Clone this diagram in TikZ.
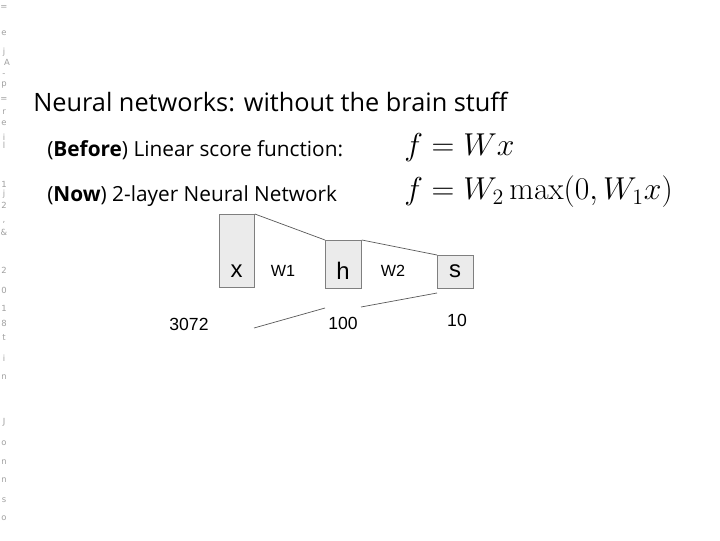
\documentclass[tikz,border=0pt]{standalone}
\usepackage[no-math]{fontspec}
\setmainfont{Open Sans}
\newfontfamily\arialfont{Liberation Sans}
\newfontfamily\tinyfont{DejaVu Sans}
\usepackage{amsmath,amssymb}
\usepackage{graphicx}
\usetikzlibrary{positioning,calc}

\definecolor{boxfill}{HTML}{EBEBEB}
\definecolor{boxline}{HTML}{7F7F7F}
\definecolor{margintext}{HTML}{A0A0A0}

\begin{document}
\begin{tikzpicture}[x=0.025cm, y=-0.025cm,
  layer/.style={rectangle, draw=boxline, fill=boxfill, line width=0.6pt, inner sep=0pt, anchor=north west},
  lbl/.style={font=\arialfont\fontsize{17}{17}\selectfont, inner sep=0pt},
  wlbl/.style={font=\arialfont\fontsize{11.5}{11.5}\selectfont, inner sep=0pt},
  conn/.style={draw=black!65, line width=0.5pt}]
\useasboundingbox[fill=white] (0,0) rectangle (720,540);
% garbled footer running down the left margin
\foreach \yy/\ch in {8/=, 33/e, 52/j, 75/-, 85/p, 100/=, 112/r, 123/e, 137/i, 145/l, 184/1, 194/j, 205/2, 222/{,}, 232/\&, 270/2, 290/0, 308/1, 323/8, 338/t, 358/i, 377/n, 422/J, 443/o, 462/n, 480/n, 500/s, 518/o}
  \node[font=\tinyfont\fontsize{6}{6}\selectfont, text=margintext, inner sep=0pt] at (4,\yy) {\ch};
\node[font=\tinyfont\fontsize{6}{6}\selectfont, text=margintext, inner sep=0pt] (mA) at (7,62) {A};

% title and text lines
\node[anchor=west, inner sep=0pt, font=\fontsize{18}{18}\selectfont] (title) at (33,102) {Neural networks: without the brain stuff};
\node[anchor=west, inner sep=0pt, font=\fontsize{14.8}{14.8}\selectfont] (before) at (47,150) {(\textbf{Before}) Linear score function:};
\node[anchor=west, inner sep=0pt, font=\fontsize{14.8}{14.8}\selectfont] (now) at (47,196) {(\textbf{Now}) 2-layer Neural Network};
\node[anchor=west, inner sep=0pt, font=\fontsize{20.74}{20.74}\selectfont] (lin) at (404,148) {\scalebox{1.085}{$f = Wx$}};
\node[anchor=west, inner sep=0pt, font=\fontsize{20.74}{20.74}\selectfont] (twol) at (404,192) {\scalebox{1.085}{$f = W_2 \max(0, W_1 x)$}};

% layers
\node[layer, minimum width=0.875cm, minimum height=1.825cm] (xbox) at (219,214) {};
\node[layer, minimum width=0.9cm, minimum height=1.2cm] (hbox) at (325,240) {};
\node[layer, minimum width=0.9cm, minimum height=0.825cm] (sbox) at (437,255) {};
\node[lbl] (xl) at (236.5,271) {x};
\node[lbl] (hl) at (343,271) {h};
\node[lbl] (sl) at (455,271) {s};
\node[wlbl] (w1) at (283,271) {W1};
\node[wlbl] (w2) at (393,271) {W2};
\node[wlbl, font=\arialfont\fontsize{12.5}{12.5}\selectfont] (nx) at (189,324) {3072};
\node[wlbl, font=\arialfont\fontsize{12.5}{12.5}\selectfont] (nh) at (343,323) {100};
\node[wlbl, font=\arialfont\fontsize{12.5}{12.5}\selectfont] (ns) at (457,320) {10};

\coordinate (b1) at (254,328);
\coordinate (b2) at (325,308);
\coordinate (b3) at (361,307);
\coordinate (b4) at (437,293);
\draw[conn] (xbox.north east) -- (hbox.north west);
\draw[conn] (hbox.north east) -- (sbox.north west);
\draw[conn] (b1) -- (b2);
\draw[conn] (b3) -- (b4);
\end{tikzpicture}
\end{document}
